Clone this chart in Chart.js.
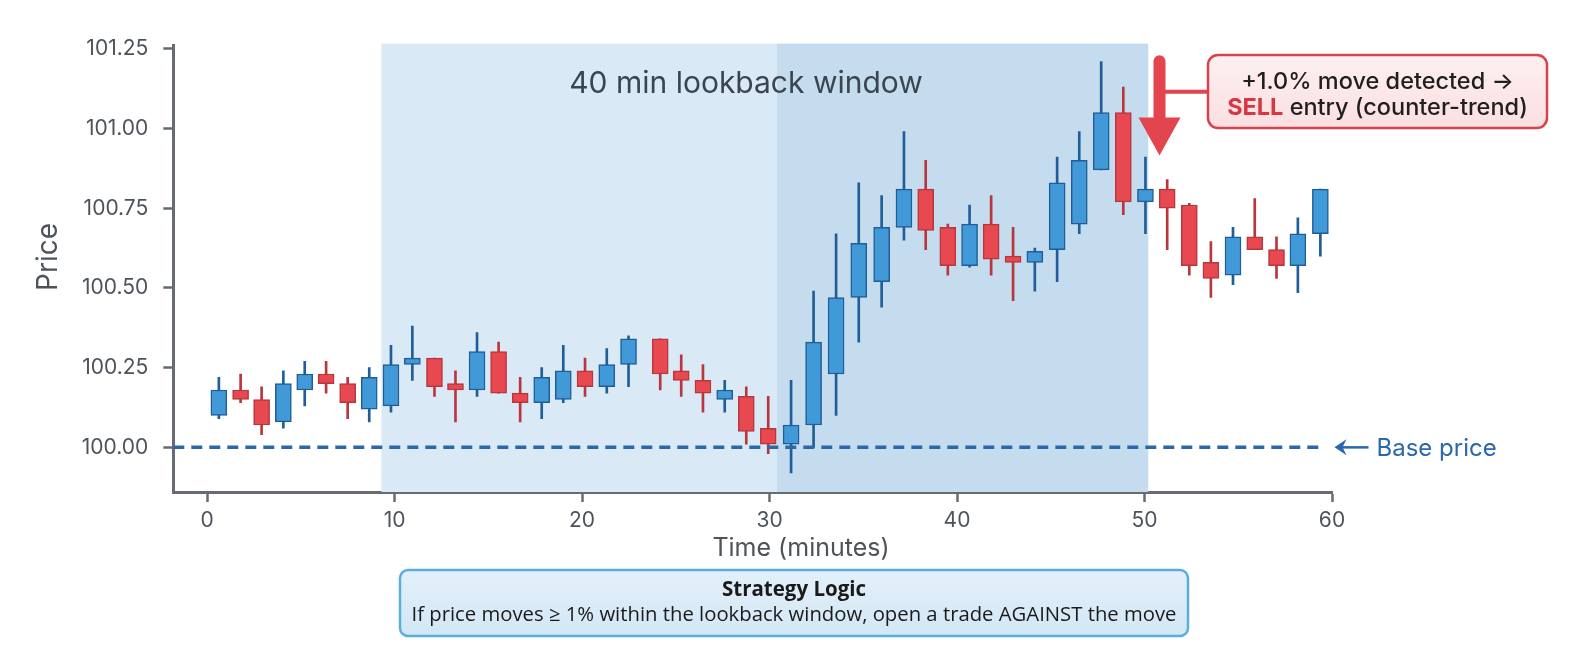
<!DOCTYPE html>
<html>
<head>
<meta charset="utf-8">
<script src="https://cdn.jsdelivr.net/npm/chart.js@4.4.1/dist/chart.umd.min.js"></script>
<style>
  html, body { margin: 0; padding: 0; background: #fff; }
  #wrap { width: 1584px; height: 672px; position: relative; }
</style>
</head>
<body>
<div id="wrap"><canvas id="candleChart"></canvas></div>
<script>
// Candle data (time in minutes, prices)
const times = [0.63, 1.79, 2.91, 4.07, 5.21, 6.35, 7.50, 8.65, 9.81, 10.95,
    12.13, 13.25, 14.40, 15.55, 16.70, 17.85, 19.00, 20.16, 21.32, 22.48,
    24.17, 25.29, 26.45, 27.61, 28.76, 29.93, 31.15, 32.35, 33.55, 34.76,
    35.98, 37.17, 38.33, 39.51, 40.67, 41.82, 42.99, 44.15, 45.34, 46.52,
    47.69, 48.87, 50.05, 51.21, 52.39, 53.54, 54.72, 55.88, 57.04, 58.18, 59.38];
const opens = [100.10, 100.18, 100.15, 100.08, 100.18, 100.23, 100.20, 100.12, 100.13, 100.26,
    100.28, 100.20, 100.18, 100.30, 100.17, 100.14, 100.15, 100.24, 100.19, 100.26,
    100.34, 100.24, 100.21, 100.15, 100.16, 100.06, 100.01, 100.07, 100.23, 100.47,
    100.52, 100.69, 100.81, 100.69, 100.57, 100.70, 100.60, 100.58, 100.62, 100.70,
    100.87, 101.05, 100.77, 100.81, 100.76, 100.58, 100.54, 100.66, 100.62, 100.57, 100.67];
const closes = [100.18, 100.15, 100.07, 100.20, 100.23, 100.20, 100.14, 100.22, 100.26, 100.28,
    100.19, 100.18, 100.30, 100.17, 100.14, 100.22, 100.24, 100.19, 100.26, 100.34,
    100.23, 100.21, 100.17, 100.18, 100.05, 100.01, 100.07, 100.33, 100.47, 100.64,
    100.69, 100.81, 100.68, 100.57, 100.70, 100.59, 100.58, 100.615, 100.83, 100.90,
    101.05, 100.77, 100.81, 100.75, 100.57, 100.53, 100.66, 100.62, 100.57, 100.67, 100.81];
const highs = [100.22, 100.23, 100.19, 100.24, 100.27, 100.27, 100.22, 100.25, 100.32, 100.38,
    100.28, 100.24, 100.36, 100.33, 100.22, 100.25, 100.32, 100.28, 100.31, 100.35,
    100.34, 100.29, 100.26, 100.21, 100.19, 100.16, 100.21, 100.49, 100.67, 100.83,
    100.79, 100.99, 100.90, 100.70, 100.76, 100.79, 100.69, 100.625, 100.91, 100.99,
    101.21, 101.13, 100.91, 100.84, 100.765, 100.645, 100.69, 100.78, 100.66, 100.72, 100.81];
const lows = [100.09, 100.14, 100.04, 100.06, 100.13, 100.17, 100.09, 100.08, 100.11, 100.21,
    100.16, 100.08, 100.16, 100.17, 100.08, 100.09, 100.14, 100.16, 100.17, 100.19,
    100.18, 100.16, 100.11, 100.11, 100.01, 99.98, 99.92, 100.00, 100.10, 100.33,
    100.44, 100.65, 100.62, 100.54, 100.565, 100.54, 100.46, 100.49, 100.52, 100.67,
    100.87, 100.73, 100.67, 100.62, 100.54, 100.47, 100.51, 100.62, 100.53, 100.485, 100.60];

const xTicks = [0, 10, 20, 30, 40, 50, 60];
const yTicks = [100.00, 100.25, 100.50, 100.75, 101.00, 101.25];

const basePrice = 100.0;
const baseLineEnd = 59.6;
const windowStart = 9.3;    // lookback window (light)
const recentStart = 30.4;   // darker part of window
const windowEnd = 50.2;

// signal arrow
const arrowTime = 50.8;
const arrowTop = 101.23;
const arrowTip = 100.915;
const connectorPrice = 101.115;

const blueFill = "#4299d7";
const blueEdge = "#1f5e98";
const redFill = "#e8484f";
const redEdge = "#b8363d";
const axisColor = "#676c72";
const labelColor = "#4d535a";
const baseBlue = "#2a68aa";

const isUp = opens.map((o, i) => closes[i] >= o);

const overlay = {
    id: "overlay",
    beforeDatasetsDraw(chart) {
        const { ctx, chartArea: a, scales: { x } } = chart;
        const x0 = x.getPixelForValue(windowStart);
        const x1 = x.getPixelForValue(recentStart);
        const x2 = x.getPixelForValue(windowEnd);
        ctx.save();
        ctx.fillStyle = "#d9eaf6";
        ctx.fillRect(x0, a.top - 2, x1 - x0, a.bottom - a.top + 2);
        ctx.fillStyle = "#c5dcef";
        ctx.fillRect(x1, a.top - 2, x2 - x1, a.bottom - a.top + 2);

        ctx.fillStyle = "#3a4550";
        ctx.font = "30px Inter";
        ctx.textAlign = "center";
        ctx.textBaseline = "middle";
        ctx.fillText("40 min lookback window", 746, 84);
        ctx.restore();
    },
    afterDraw(chart) {
        const { ctx, scales: { x, y } } = chart;
        ctx.save();

        // axis titles
        ctx.fillStyle = labelColor;
        ctx.font = "25px Inter";
        ctx.textAlign = "center";
        ctx.textBaseline = "middle";
        ctx.fillText("Time (minutes)", 801, 548);
        ctx.save();
        ctx.translate(49, 257);
        ctx.rotate(-Math.PI / 2);
        ctx.font = "28px Inter";
        ctx.fillText("Price", 0, 0);
        ctx.restore();

        // base price label
        const by = y.getPixelForValue(basePrice);
        const tip = x.getPixelForValue(baseLineEnd) + 10;
        ctx.strokeStyle = baseBlue;
        ctx.fillStyle = baseBlue;
        ctx.lineWidth = 2.5;
        ctx.beginPath();
        ctx.moveTo(tip + 6, by);
        ctx.lineTo(tip + 34, by);
        ctx.stroke();
        ctx.beginPath();
        ctx.moveTo(tip, by);
        ctx.lineTo(tip + 12, by - 8);
        ctx.lineTo(tip + 8, by);
        ctx.lineTo(tip + 12, by + 8);
        ctx.closePath();
        ctx.fill();
        ctx.font = "24px Inter";
        ctx.textAlign = "left";
        ctx.fillText("Base price", tip + 42, by + 1);

        // red signal arrow
        const ax = x.getPixelForValue(arrowTime);
        const ay0 = y.getPixelForValue(arrowTop);
        const ay1 = y.getPixelForValue(arrowTip);
        const cy = y.getPixelForValue(connectorPrice);
        ctx.strokeStyle = "#e2454d";
        ctx.fillStyle = "#e2454d";
        ctx.lineWidth = 4;
        ctx.beginPath();
        ctx.moveTo(ax, cy);
        ctx.lineTo(1210, cy);
        ctx.stroke();
        ctx.lineWidth = 12;
        ctx.lineCap = "round";
        ctx.beginPath();
        ctx.moveTo(ax, ay0 + 6);
        ctx.lineTo(ax, ay1 - 30);
        ctx.stroke();
        ctx.beginPath();
        ctx.moveTo(ax - 21, ay1 - 38);
        ctx.lineTo(ax + 21, ay1 - 38);
        ctx.lineTo(ax, ay1);
        ctx.closePath();
        ctx.fill();

        // callout box
        const bx = 1208, bw = 339, bTop = 55, bh = 73;
        const g = ctx.createLinearGradient(0, bTop, 0, bTop + bh);
        g.addColorStop(0, "#fdf0f0");
        g.addColorStop(1, "#fbdfe1");
        ctx.beginPath();
        ctx.roundRect(bx, bTop, bw, bh, 10);
        ctx.fillStyle = g;
        ctx.fill();
        ctx.lineWidth = 2.5;
        ctx.strokeStyle = "#d8434b";
        ctx.stroke();

        ctx.textBaseline = "middle";
        ctx.textAlign = "center";
        ctx.fillStyle = "#1f1f1f";
        ctx.font = "500 23.5px Inter";
        ctx.fillText("+1.0% move detected \u2192", bx + bw / 2, 82);
        const sell = "SELL";
        const rest = " entry (counter-trend)";
        ctx.font = "700 23.5px Inter";
        const w1 = ctx.measureText(sell).width;
        ctx.font = "500 23.5px Inter";
        const w2 = ctx.measureText(rest).width;
        const sx = bx + bw / 2 - (w1 + w2) / 2;
        ctx.textAlign = "left";
        ctx.font = "700 23.5px Inter";
        ctx.fillStyle = "#d8373f";
        ctx.fillText(sell, sx, 108);
        ctx.font = "500 23.5px Inter";
        ctx.fillStyle = "#1f1f1f";
        ctx.fillText(rest, sx + w1, 108);

        // strategy box
        const sbx = 400, sbw = 788, sbTop = 570, sbh = 66;
        const g2 = ctx.createLinearGradient(0, sbTop, 0, sbTop + sbh);
        g2.addColorStop(0, "#e3f0fa");
        g2.addColorStop(1, "#d3e7f6");
        ctx.beginPath();
        ctx.roundRect(sbx, sbTop, sbw, sbh, 8);
        ctx.fillStyle = g2;
        ctx.fill();
        ctx.lineWidth = 2.5;
        ctx.strokeStyle = "#5aaede";
        ctx.stroke();
        ctx.textAlign = "center";
        ctx.fillStyle = "#1a1a1a";
        ctx.font = "bold 20.5px 'Open Sans'";
        ctx.fillText("Strategy Logic", sbx + sbw / 2, 590);
        ctx.font = "20.3px 'Open Sans'";
        ctx.fillText("If price moves \u2265 1% within the lookback window, open a trade AGAINST the move", sbx + sbw / 2, 615);

        ctx.restore();
    },
};

new Chart(document.getElementById("candleChart"), {
    type: "bar",
    data: {
        datasets: [
            {
                type: "line",
                data: [{ x: -1.8, y: basePrice }, { x: baseLineEnd, y: basePrice }],
                borderColor: baseBlue,
                borderWidth: 3.5,
                borderDash: [11, 7],
                pointRadius: 0,
                order: 0,
            },
            {
                label: "body",
                data: times.map((t, i) => ({ x: t, y: [opens[i], closes[i]] })),
                backgroundColor: isUp.map((u) => (u ? blueFill : redFill)),
                borderColor: isUp.map((u) => (u ? blueEdge : redEdge)),
                borderWidth: 1.5,
                borderSkipped: false,
                barThickness: 16,
                grouped: false,
                order: 1,
            },
            {
                label: "wick",
                data: times.map((t, i) => ({ x: t, y: [lows[i], highs[i]] })),
                backgroundColor: isUp.map((u) => (u ? blueEdge : redEdge)),
                borderWidth: 0,
                barThickness: 2,
                grouped: false,
                order: 2,
            },
        ],
    },
    options: {
        responsive: true,
        maintainAspectRatio: false,
        animation: false,
        layout: {
            padding: { left: 0, top: 45.6, right: 252, bottom: 140 },
        },
        plugins: {
            legend: { display: false },
            tooltip: { enabled: false },
        },
        scales: {
            x: {
                type: "linear",
                min: -1.8,
                max: 60,
                offset: false,
                afterFit: (s) => { s.height = 40; },
                afterBuildTicks: (s) => { s.ticks = xTicks.map((v) => ({ value: v })); },
                grid: {
                    offset: false,
                    drawOnChartArea: false,
                    tickLength: 10,
                    tickWidth: 2.5,
                    tickColor: axisColor,
                },
                border: { color: axisColor, width: 3 },
                ticks: {
                    color: labelColor,
                    font: { family: "Inter", size: 21 },
                    padding: 6,
                    maxRotation: 0,
                },
            },
            y: {
                min: 99.86,
                max: 101.26,
                afterFit: (s) => { s.width = 173.3; },
                afterBuildTicks: (s) => { s.ticks = yTicks.map((v) => ({ value: v })); },
                grid: {
                    drawOnChartArea: false,
                    tickLength: 10,
                    tickWidth: 2.5,
                    tickColor: axisColor,
                },
                border: { color: axisColor, width: 3 },
                ticks: {
                    color: labelColor,
                    font: { family: "Inter", size: 21 },
                    padding: 15,
                    callback: (v) => Number(v).toFixed(2),
                },
            },
        },
    },
    plugins: [overlay],
});
</script>
</body>
</html>
